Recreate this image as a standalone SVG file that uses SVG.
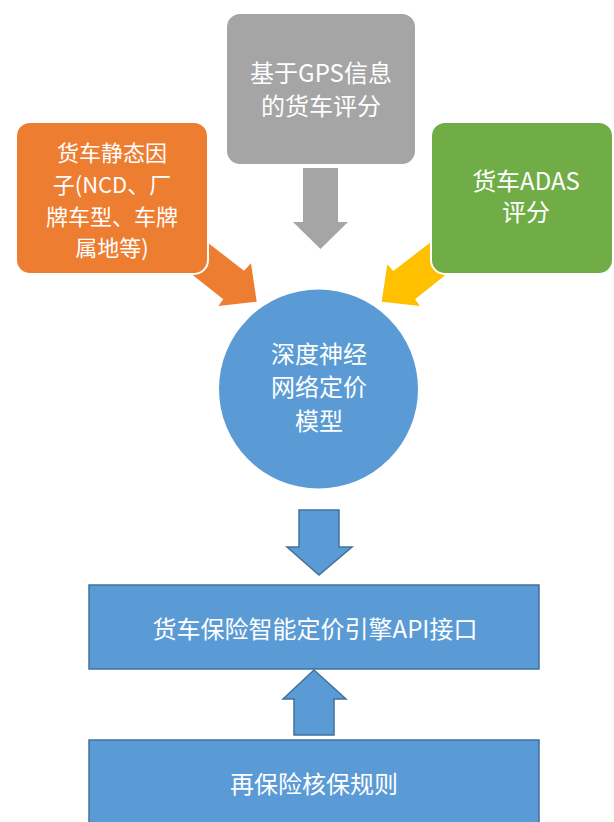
<svg xmlns="http://www.w3.org/2000/svg" width="614" height="822" viewBox="0 0 614 822">
<style>
text{font-family:"Noto Sans CJK SC","Noto Sans",sans-serif;fill:#ffffff;text-anchor:middle;font-size:24px}
.rb{stroke:#ffffff;stroke-width:2}
.blue{fill:#5b9bd5;stroke:#41719c;stroke-width:1.5}
</style>
<rect width="614" height="822" fill="#ffffff"/>
<g id="connectors">
<polygon id="a-orange" points="194,232 244,270.7 251,263.3 256.7,301.7 218.3,306 223.3,299.3 180,265" fill="#ed7d31"/>
<polygon id="a-yellow" points="444,232 393.3,271 387.3,264.3 381.7,301.7 420,306 415,299.3 458,265" fill="#ffc000"/>
<polygon id="a-gray" points="303,168 338,168 338,222 348,222 320.5,249 293,222 303,222" fill="#a5a5a5"/>
<polygon id="a-down" class="blue" points="299,510 339,510 339,547 352,547 319,575 287,547 299,547" stroke-width="1"/>
<polygon id="a-up" class="blue" points="314,670 346,699 334,699 334,735 294,735 294,699 283,699" stroke-width="1"/>
</g>
<g id="n-static">
<rect class="rb" x="16" y="122" width="192" height="152" rx="14" fill="#ed7d31"/>
<text style="font-size:22px"><tspan x="112" y="161">货车静态因</tspan><tspan x="112" y="193">子(NCD、厂</tspan><tspan x="112" y="225">牌车型、车牌</tspan><tspan x="112" y="256">属地等)</tspan></text>
</g>
<g id="n-gps">
<rect class="rb" x="226" y="13" width="190" height="152" rx="14" fill="#a5a5a5"/>
<text><tspan x="321" y="82">基于GPS信息</tspan><tspan x="321" y="115">的货车评分</tspan></text>
</g>
<g id="n-adas">
<rect class="rb" x="431" y="122" width="182" height="152" rx="14" fill="#70ad47"/>
<text><tspan x="526" y="190">货车ADAS</tspan><tspan x="526" y="221">评分</tspan></text>
</g>
<g id="n-model">
<circle cx="318.5" cy="389" r="99.5" fill="#5b9bd5"/>
<text><tspan x="319" y="363">深度神经</tspan><tspan x="319" y="396">网络定价</tspan><tspan x="319" y="430">模型</tspan></text>
</g>
<g id="n-api">
<rect class="blue" x="89" y="585" width="450" height="84"/>
<text x="315" y="638">货车保险智能定价引擎API接口</text>
</g>
<g id="n-rules">
<rect class="blue" x="89" y="740" width="450" height="90"/>
<text x="314" y="793">再保险核保规则</text>
</g>
</svg>
